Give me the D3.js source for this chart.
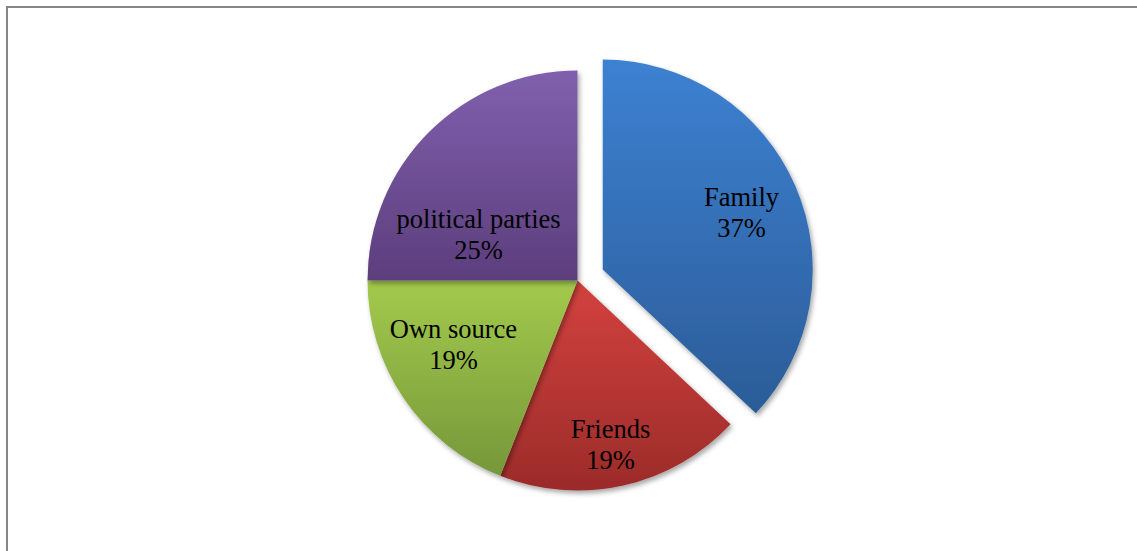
<!DOCTYPE html>
<html>
<head>
<meta charset="utf-8">
<script src="https://cdn.jsdelivr.net/npm/d3@7"></script>
<style>
  html, body { margin: 0; padding: 0; background: #fff; }
  svg { display: block; }
</style>
</head>
<body>
<main></main>
<script>
// data
const categories = ["Family", "Friends", "Own source", "political parties"];
const shares = [37, 19, 19, 25];
const labels = ["37%", "19%", "19%", "25%"];

// slice colours (top, bottom of gradient)
const topColors = ["#3d81d2", "#d3423f", "#a3ca4c", "#8060ad"];
const bottomColors = ["#2b5c98", "#9b2b29", "#76973a", "#5c3e7d"];
const exploded = [true, false, false, false];
// label nudges from the arc centroid (excel-style best fit)
const labelNudge = [[0, 12], [0, 25], [1, -12], [8, 70]];

const W = 1137, H = 551;
const cx = 577.5, cy = 280.5, radius = 210, explode = 27.5;

const svg = d3.select("main").append("svg")
    .attr("width", W)
    .attr("height", H);

// chart frame
svg.append("rect")
    .attr("x", 7)
    .attr("y", 7)
    .attr("width", W + 20)
    .attr("height", H + 20)
    .attr("fill", "none")
    .attr("stroke", "#878787")
    .attr("stroke-width", 2);

const defs = svg.append("defs");

const shadow = defs.append("filter")
    .attr("id", "shadow")
    .attr("x", "-10%").attr("y", "-10%")
    .attr("width", "130%").attr("height", "130%");
shadow.append("feDropShadow")
    .attr("dx", 2)
    .attr("dy", 3)
    .attr("stdDeviation", 2.5)
    .attr("flood-color", "#000")
    .attr("flood-opacity", 0.35);

categories.forEach((c, i) => {
  const g = defs.append("linearGradient")
      .attr("id", "grad" + i)
      .attr("x1", 0).attr("y1", 0)
      .attr("x2", 0).attr("y2", 1);
  g.append("stop").attr("offset", "0%").attr("stop-color", topColors[i]);
  g.append("stop").attr("offset", "100%").attr("stop-color", bottomColors[i]);
});

const data = categories.map((c, i) => ({name: c, value: shares[i], label: labels[i], i}));

const pie = d3.pie()
    .sort(null)
    .value(d => d.value);

const arc = d3.arc()
    .innerRadius(0)
    .outerRadius(radius);

const labelArc = d3.arc()
    .innerRadius(radius * 0.72)
    .outerRadius(radius * 0.72);

const arcs = pie(data);

const offset = d => {
  if (!exploded[d.data.i]) return [0, 0];
  const a = (d.startAngle + d.endAngle) / 2;
  return [Math.sin(a) * explode, -Math.cos(a) * explode];
};

const g = svg.append("g")
    .attr("transform", `translate(${cx}, ${cy})`);

const slice = g.selectAll(".slice")
    .data(arcs)
  .enter().append("g")
    .attr("class", "slice")
    .attr("transform", d => `translate(${offset(d)})`);

slice.append("path")
    .attr("d", arc)
    .attr("fill", d => `url(#grad${d.data.i})`)
    .attr("filter", "url(#shadow)");

const text = g.selectAll(".label")
    .data(arcs)
  .enter().append("text")
    .attr("class", "label")
    .attr("font-family", "'Liberation Serif', 'Times New Roman', 'DejaVu Serif', serif")
    .attr("font-size", 26.5)
    .attr("fill", "#000")
    .attr("text-anchor", "middle")
    .attr("transform", d => {
      const [x, y] = labelArc.centroid(d);
      const [ox, oy] = offset(d);
      const [nx, ny] = labelNudge[d.data.i];
      return `translate(${x + ox + nx}, ${y + oy + ny})`;
    });

text.append("tspan")
    .attr("x", 0)
    .attr("y", -15.5)
    .text(d => d.data.name);

text.append("tspan")
    .attr("x", 0)
    .attr("y", 15.5)
    .text(d => d.data.label);
</script>
</body>
</html>
